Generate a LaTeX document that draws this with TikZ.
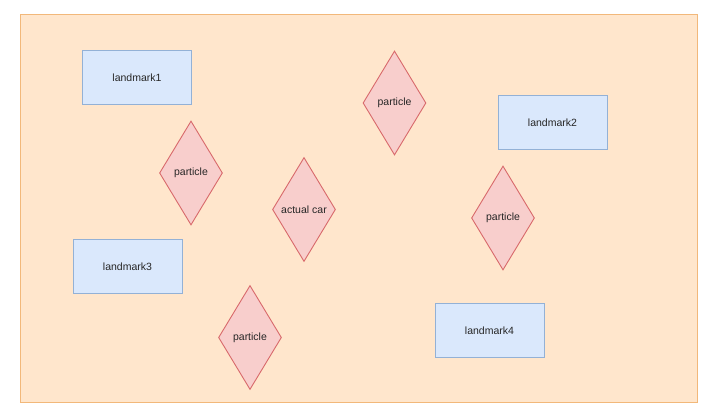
\documentclass[tikz,border=0pt]{standalone}
\usepackage{fontspec}
\setmainfont{Liberation Sans}
\usetikzlibrary{shapes.geometric}
\definecolor{bgfill}{HTML}{FFE6CC}
\definecolor{bgline}{HTML}{F2B87A}
\definecolor{lmfill}{HTML}{DAE8FC}
\definecolor{lmline}{HTML}{93B1D6}
\definecolor{ptfill}{HTML}{F8CECC}
\definecolor{ptline}{HTML}{D8696B}
\begin{document}
\begin{tikzpicture}[x=1pt,y=-1pt,
  lbl/.style={font=\fontsize{10.5}{12}\selectfont, text=black!85},
  landmark/.style={lbl, draw=lmline, fill=lmfill, line width=1pt, minimum width=109pt, minimum height=54pt, inner sep=0pt},
  particlebox/.style={lbl, shape=diamond, draw=ptline, fill=ptfill, line width=0.9pt, minimum width=63pt, minimum height=104pt, inner sep=0pt}]
\useasboundingbox (0,0) rectangle (716,419);
\node[draw=bgline, fill=bgfill, line width=1pt, minimum width=677.5pt, minimum height=387.5pt, inner sep=0pt, anchor=north west] (bg) at (19.5,14.5) {};
\node[landmark] (lm1) at (137,78) {landmark1};
\node[landmark] (lm2) at (552.5,123) {landmark2};
\node[landmark] (lm3) at (127.5,267) {landmark3};
\node[landmark] (lm4) at (489.5,331) {landmark4};
\node[particlebox] (p1) at (191,173) {particle};
\node[particlebox] (car) at (304,209.5) {actual car};
\node[particlebox] (p2) at (394.5,103) {particle};
\node[particlebox] (p3) at (503,218) {particle};
\node[particlebox] (p4) at (250,337.5) {particle};
\end{tikzpicture}
\end{document}
